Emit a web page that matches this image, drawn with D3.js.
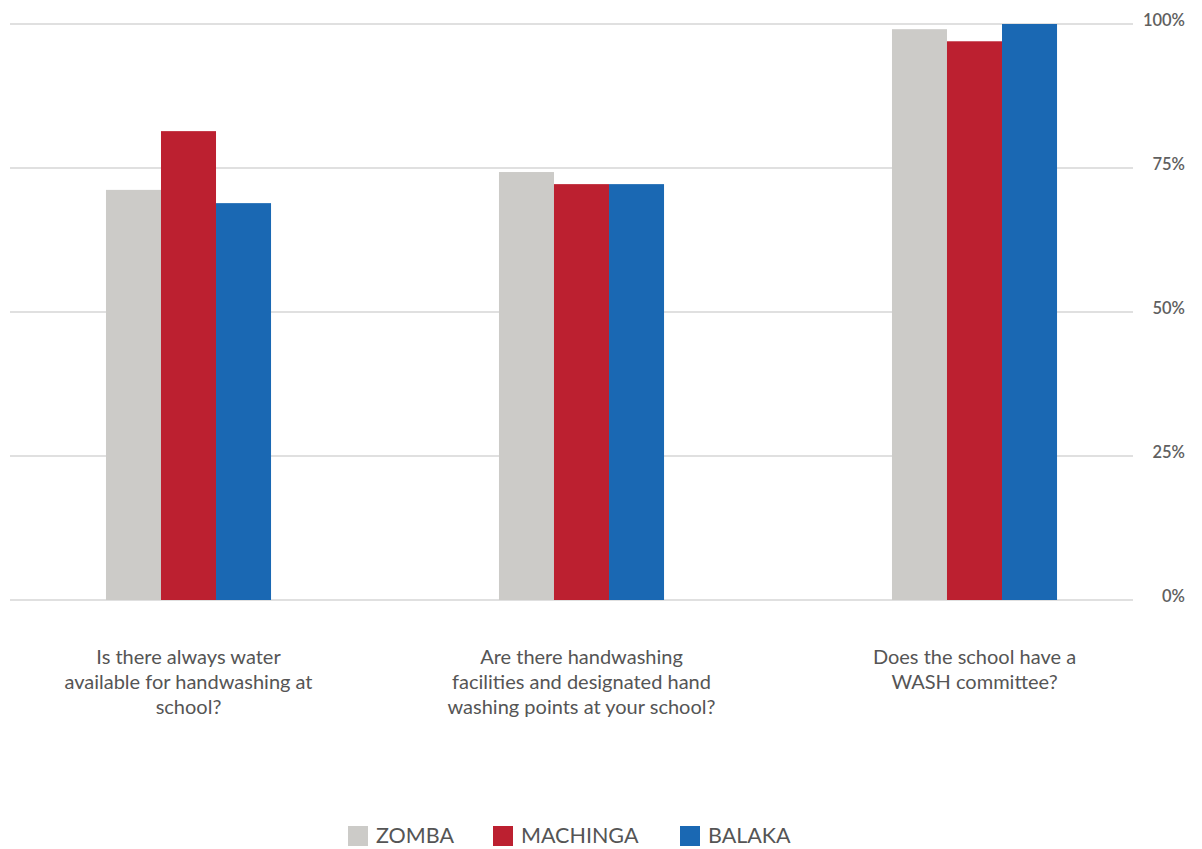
<!DOCTYPE html>
<html><head><meta charset="utf-8">
<script src="https://cdn.jsdelivr.net/npm/d3@7"></script>
<style>body{margin:0;background:#fff;} svg{display:block;}</style>
</head><body>
<svg id="c" width="1202" height="849"></svg>
<script>
const categories = [
  ["Is there always water", "available for handwashing at", "school?"],
  ["Are there handwashing", "facilities and designated hand", "washing points at your school?"],
  ["Does the school have a", "WASH committee?"]
];
const seriesNames = ["ZOMBA", "MACHINGA", "BALAKA"];
const zomba = [71.2, 74.3, 99.1];
const machinga = [81.4, 72.2, 97.0];
const balaka = [68.9, 72.2, 100];
const tickValues = [0, 25, 50, 75, 100];
const colors = ["#CCCBC8", "#BC2030", "#1A68B3"];

const svg = d3.select("#c");
const font = "Lato, 'Open Sans', sans-serif";
const y = d3.scaleLinear().domain([0, 100]).range([600, 24]);
const x = d3.scaleBand().domain(d3.range(categories.length)).range([-8, 1171]).paddingInner(0.58).paddingOuter(0.29);
const xs = d3.scaleBand().domain(seriesNames).range([0, x.bandwidth()]);
const series = [zomba, machinga, balaka];

// gridlines
svg.append("g").selectAll("line").data(tickValues).join("line")
  .attr("x1", 10).attr("x2", 1133)
  .attr("y1", d => y(d)).attr("y2", d => y(d))
  .attr("stroke", "#d6d6d6").attr("stroke-width", 1.5);

// tick labels
svg.append("g").selectAll("text").data(tickValues).join("text")
  .attr("x", 1185).attr("y", d => y(d) - 2)
  .attr("text-anchor", "end").attr("dominant-baseline", "middle")
  .attr("font-family", font).attr("font-size", 16.5).attr("font-weight", 600).attr("fill", "#606060")
  .text(d => d + "%");

// bars
series.forEach((vals, si) => {
  svg.append("g").selectAll("rect").data(vals).join("rect")
    .attr("x", (d, i) => x(i) + xs(seriesNames[si]))
    .attr("width", xs.bandwidth())
    .attr("y", d => y(d))
    .attr("height", d => y(0) - y(d))
    .attr("fill", colors[si]);
});

// category labels
categories.forEach((lines, i) => {
  const t = svg.append("text")
    .attr("text-anchor", "middle")
    .attr("font-family", font).attr("font-size", 20).attr("fill", "#555");
  lines.forEach((ln, j) => {
    t.append("tspan").attr("x", x(i) + x.bandwidth() / 2).attr("y", 664 + j * 25).text(ln);
  });
});

// legend
const legendX = [348, 493, 680];
seriesNames.forEach((n, i) => {
  svg.append("rect").attr("x", legendX[i]).attr("y", 826).attr("width", 20).attr("height", 20).attr("fill", colors[i]);
  svg.append("text").attr("x", legendX[i] + 28).attr("y", 843)
    .attr("font-family", font).attr("font-size", 21.5).attr("fill", "#555")
    .text(n);
});
</script>
</body></html>
